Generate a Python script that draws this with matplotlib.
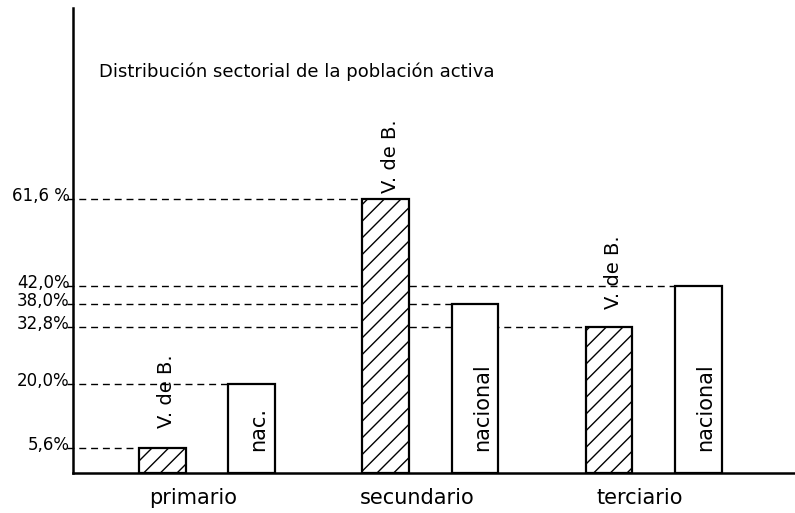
import numpy as np
import matplotlib.pyplot as plt

# datos
sectores = ['primario', 'secundario', 'terciario']
v_de_b = [5.6, 61.6, 32.8]
nacional = [20.0, 38.0, 42.0]
etiq_nac = ['nac.', 'nacional', 'nacional']
etiq_y = {5.6: '5,6%', 20.0: '20,0%', 32.8: '32,8%', 38.0: '38,0%', 42.0: '42,0%', 61.6: '61,6 %'}

plt.rcParams['font.family'] = 'DejaVu Sans'
plt.rcParams['hatch.linewidth'] = 1.0

fig = plt.figure(figsize=(7.95, 5.13), dpi=100)
ax = fig.add_axes([73 / 795, 40 / 513, 722 / 795, 465 / 513])

x = np.arange(len(sectores))
desp = 0.2
ancho = 0.21

ax.bar(x - desp, v_de_b, ancho, facecolor='white', edgecolor='black',
       hatch='//', linewidth=1.6, zorder=3)
ax.bar(x + desp, nacional, ancho, facecolor='white', edgecolor='black',
       linewidth=1.6, zorder=3)

ax.set_xlim(-0.6, 2.633)
ax.set_ylim(0, 104.5)

# lineas de referencia hasta la barra correspondiente
x0 = -0.627
for vals, pos in [(v_de_b, x - desp), (nacional, x + desp)]:
    for v, p in zip(vals, pos):
        ax.plot([x0, p - ancho / 2], [v, v], color='black', lw=1.0,
                dashes=(5, 3.5), clip_on=False, zorder=2)
        ax.text(-0.005, v + 0.6, etiq_y[v], transform=ax.get_yaxis_transform(),
                ha='right', va='center', fontsize=12)

gap = [4.6, 1.4, 4.0]
for i, v in enumerate(v_de_b):
    ax.text(x[i] - desp + 0.02, v + gap[i], 'V. de B.', rotation=90,
            ha='center', va='bottom', fontsize=14)
for i, v in enumerate(nacional):
    ax.text(x[i] + desp + 0.03, 5.0, etiq_nac[i], rotation=90,
            ha='center', va='bottom', fontsize=15)

ax.set_xticks(x - 0.06)
ax.set_xticklabels(sectores, fontsize=15)
ax.tick_params(length=0, pad=11)
ax.set_yticks([])

ax.text(0.036, 0.862, 'Distribución sectorial de la población activa',
        transform=ax.transAxes, ha='left', va='center', fontsize=13)

for s in ['top', 'right']:
    ax.spines[s].set_visible(False)
ax.spines['left'].set_linewidth(1.8)
ax.spines['bottom'].set_linewidth(1.8)

fig.savefig('out.png', dpi=100)
